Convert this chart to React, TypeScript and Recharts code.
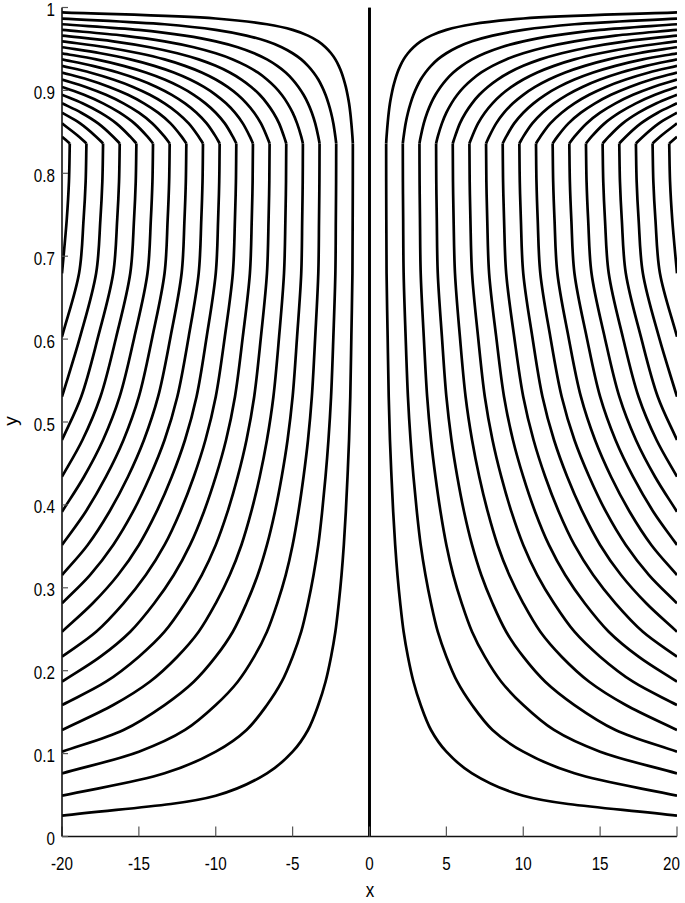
import React from 'react';
import { LineChart, Line, XAxis, YAxis } from 'recharts';

// Tick values and labels
const xTicks = [-20, -15, -10, -5, 0, 5, 10, 15, 20];
const xTickLabels = ['-20', '-15', '-10', '-5', '0', '5', '10', '15', '20'];
const yTicks = [0, 0.1, 0.2, 0.3, 0.4, 0.5, 0.6, 0.7, 0.8, 0.9, 1];
const yTickLabels = ['0', '0.1', '0.2', '0.3', '0.4', '0.5', '0.6', '0.7', '0.8', '0.9', '1'];

// Heights (y) where each contour level meets the x = -20 edge, lower part (level 1 .. 18)
const levelLowY = [0.0251, 0.0492, 0.0762, 0.1023, 0.1285, 0.1586, 0.1867, 0.2169, 0.247, 0.2813, 0.3154, 0.3517, 0.3918, 0.434, 0.4783, 0.5305, 0.6029, 0.6794];
// Heights where each contour level meets the x = -20 edge, upper part (level 1 .. 18)
const levelHighY = [0.9942, 0.9867, 0.9798, 0.973, 0.9661, 0.9592, 0.9521, 0.9448, 0.9374, 0.9296, 0.9216, 0.9131, 0.9042, 0.8947, 0.8844, 0.8731, 0.8602, 0.8442];
// Heights of the near-vertical stretch and of the bend
const bendY = [0.744, 0.79, 0.836];

// x of contour k (left half) at the heights above, from its own level onwards
const curveX = [
  [-20, -10, -6.67, -5, -4, -3.33, -2.86, -2.5, -2.22, -2, -1.82, -1.67, -1.54, -1.43, -1.33, -1.25, -1.18, -1.11],
  [-20, -13.33, -10, -8, -6.67, -5.71, -5, -4.44, -4, -3.64, -3.33, -3.08, -2.86, -2.67, -2.5, -2.35, -2.22],
  [-20, -15, -12, -10, -8.57, -7.5, -6.67, -6, -5.45, -5, -4.62, -4.29, -4, -3.75, -3.53, -3.33],
  [-20, -16, -13.33, -11.43, -10, -8.89, -8, -7.27, -6.67, -6.15, -5.71, -5.33, -5, -4.71, -4.44],
  [-20, -16.67, -14.29, -12.5, -11.11, -10, -9.09, -8.33, -7.69, -7.14, -6.67, -6.25, -5.88, -5.56],
  [-20, -17.14, -15, -13.33, -12, -10.91, -10, -9.23, -8.57, -8, -7.5, -7.06, -6.67],
  [-20, -17.5, -15.56, -14, -12.73, -11.67, -10.77, -10, -9.33, -8.75, -8.24, -7.78],
  [-20, -17.78, -16, -14.55, -13.33, -12.31, -11.43, -10.67, -10, -9.41, -8.89],
  [-20, -18, -16.36, -15, -13.85, -12.86, -12, -11.25, -10.59, -10],
  [-20, -18.18, -16.67, -15.38, -14.29, -13.33, -12.5, -11.76, -11.11],
  [-20, -18.33, -16.92, -15.71, -14.67, -13.75, -12.94, -12.22],
  [-20, -18.46, -17.14, -16, -15, -14.12, -13.33],
  [-20, -18.57, -17.33, -16.25, -15.29, -14.44],
  [-20, -18.67, -17.5, -16.47, -15.56],
  [-20, -18.75, -17.65, -16.67],
  [-20, -18.82, -17.78],
  [-20, -18.89],
  [-20],
];
// x of contour k at bendY
const bendX = [
  [-1.094, -1.086, -1.083],
  [-2.19, -2.172, -2.166],
  [-3.283, -3.258, -3.249],
  [-4.377, -4.344, -4.332],
  [-5.47, -5.43, -5.415],
  [-6.564, -6.516, -6.498],
  [-7.658, -7.602, -7.581],
  [-8.752, -8.688, -8.664],
  [-9.846, -9.774, -9.747],
  [-10.94, -10.86, -10.83],
  [-12.034, -11.946, -11.913],
  [-13.128, -13.032, -12.996],
  [-14.222, -14.118, -14.079],
  [-15.316, -15.204, -15.162],
  [-16.41, -16.29, -16.245],
  [-17.504, -17.376, -17.328],
  [-18.598, -18.462, -18.411],
  [-19.692, -19.548, -19.494],
];
const centreLine = [{ x: 0, y: 0 }, { x: 0, y: 1 }];

type P = { x: number; y: number };
const series: { key: string; data: P[] }[] = [];
curveX.forEach((xs, i) => {
  const start = levelLowY.length - xs.length;
  const lower: P[] = xs
    .map((x, n) => ({ x, y: levelLowY[start + n] }))
    .concat(bendX[i].map((x, n) => ({ x, y: bendY[n] })));
  const upper: P[] = [{ x: bendX[i][2], y: bendY[2] }].concat(
    xs.map((x, n) => ({ x, y: levelHighY[start + n] })).reverse()
  );
  series.push({ key: `L${i}lo`, data: lower });
  series.push({ key: `L${i}up`, data: upper });
  series.push({ key: `R${i}lo`, data: lower.map((p) => ({ x: -p.x, y: p.y })) });
  series.push({ key: `R${i}up`, data: upper.map((p) => ({ x: -p.x, y: p.y })) });
});

// Centripetal Catmull-Rom drawing style (orientation independent), as a curve factory
const smoothCurve: any = (context: any) => {
  let pts: number[][] = [];
  return {
    areaStart() {},
    areaEnd() {},
    lineStart() {
      pts = [];
    },
    point(x: number, y: number) {
      pts.push([+x, +y]);
    },
    lineEnd() {
      const n = pts.length;
      if (!n) return;
      context.moveTo(pts[0][0], pts[0][1]);
      if (n === 1) return;
      const dist = (a: number[], b: number[]) => Math.sqrt(Math.hypot(b[0] - a[0], b[1] - a[1])) || 1e-6;
      for (let i = 0; i < n - 1; i++) {
        const p1 = pts[i];
        const p2 = pts[i + 1];
        const p0 = i > 0 ? pts[i - 1] : [2 * p1[0] - p2[0], 2 * p1[1] - p2[1]];
        const p3 = i + 2 < n ? pts[i + 2] : [2 * p2[0] - p1[0], 2 * p2[1] - p1[1]];
        const d01 = dist(p0, p1);
        const d12 = dist(p1, p2);
        const d23 = dist(p2, p3);
        const m1: number[] = [0, 1].map(
          (k) => d12 * ((p1[k] - p0[k]) / d01 - (p2[k] - p0[k]) / (d01 + d12) + (p2[k] - p1[k]) / d12)
        );
        const m2: number[] = [0, 1].map(
          (k) => d12 * ((p2[k] - p1[k]) / d12 - (p3[k] - p1[k]) / (d12 + d23) + (p3[k] - p2[k]) / d23)
        );
        context.bezierCurveTo(
          p1[0] + m1[0] / 3, p1[1] + m1[1] / 3,
          p2[0] - m2[0] / 3, p2[1] - m2[1] / 3,
          p2[0], p2[1]
        );
      }
    },
  };
};

const FONT = '"Liberation Sans", Arial, Helvetica, sans-serif';
const FS = 19;
const SQUEEZE = 0.8;
const glyphW = (s: string) =>
  s.split('').reduce((a, c) => a + (c === '.' ? 0.278 : c === '-' ? 0.333 : 0.556), 0);

const XTick = (props: any) => {
  const { x, y, payload } = props;
  const i = xTicks.indexOf(payload.value);
  const label = i >= 0 ? xTickLabels[i] : String(payload.value);
  const last = i === xTicks.length - 1;
  return (
    <text x={last ? 680 : x} y={y + 33.5} textAnchor={last ? 'end' : 'middle'} fontFamily={FONT} fontSize={FS}
      fill="#000" textLength={glyphW(label) * FS * SQUEEZE} lengthAdjust="spacingAndGlyphs">
      {label}
    </text>
  );
};

const YTick = (props: any) => {
  const { x, y, payload } = props;
  const i = yTicks.findIndex((v) => Math.abs(v - payload.value) < 1e-9);
  const label = i >= 0 ? yTickLabels[i] : String(payload.value);
  return (
    <text x={x - 7} y={y + 8.5} textAnchor="end" fontFamily={FONT} fontSize={FS} fill="#000"
      textLength={glyphW(label) * FS * SQUEEZE} lengthAdjust="spacingAndGlyphs">
      {label}
    </text>
  );
};

const axisLine = { stroke: '#111', strokeWidth: 1.6 };
const tickLine = { stroke: '#555', strokeWidth: 1.2 };
const LW = 2.7;

export default function App() {
  return (
    <div style={{ position: 'absolute', left: 0, top: 0, width: 685, height: 903, background: '#fff' }}>
      <LineChart width={685} height={903} margin={{ top: 7.5, right: 8, bottom: 36.5, left: 8 }}>
        <XAxis xAxisId="b" type="number" dataKey="x" domain={[-20, 20]} allowDataOverflow ticks={xTicks}
          interval={0} height={30} axisLine={axisLine} tickLine={tickLine} tickSize={-10} tickMargin={10}
          tick={<XTick />} />
        <XAxis xAxisId="t" orientation="top" type="number" dataKey="x" domain={[-20, 20]} allowDataOverflow
          ticks={xTicks} interval={0} height={0} axisLine={axisLine} tickLine={tickLine} tickSize={-9} tick={false} />
        <YAxis yAxisId="l" type="number" domain={[0, 1]} allowDataOverflow ticks={yTicks} interval={0}
          width={54} axisLine={axisLine} tickLine={tickLine} tickSize={-6} tickMargin={6} tick={<YTick />} />
        <YAxis yAxisId="r" orientation="right" type="number" domain={[0, 1]} allowDataOverflow ticks={yTicks}
          interval={0} width={0} axisLine={axisLine} tickLine={tickLine} tickSize={-7} tick={false} />
        {series.map((s) => (
          <Line key={s.key} xAxisId="b" yAxisId="l" data={s.data} dataKey="y" type={smoothCurve}
            stroke="#000" strokeWidth={LW} dot={false} activeDot={false} isAnimationActive={false} />
        ))}
        <Line xAxisId="b" yAxisId="l" data={centreLine} dataKey="y" type="linear" stroke="#000"
          strokeWidth={LW} dot={false} activeDot={false} isAnimationActive={false} />
        <Line xAxisId="t" yAxisId="r" data={centreLine} dataKey="y" type="linear" stroke="#000"
          strokeWidth={LW} dot={false} activeDot={false} isAnimationActive={false} />
      </LineChart>
      <svg width={685} height={903} style={{ position: 'absolute', left: 0, top: 0, pointerEvents: 'none' }}>
        <text x={370} y={897} textAnchor="middle" fontFamily={FONT} fontSize={20} fill="#000"
          textLength={8.5} lengthAdjust="spacingAndGlyphs">x</text>
        <text x={17} y={421} textAnchor="middle" fontFamily={FONT} fontSize={19} fill="#000"
          transform="rotate(-90 17 421)">y</text>
      </svg>
    </div>
  );
}
